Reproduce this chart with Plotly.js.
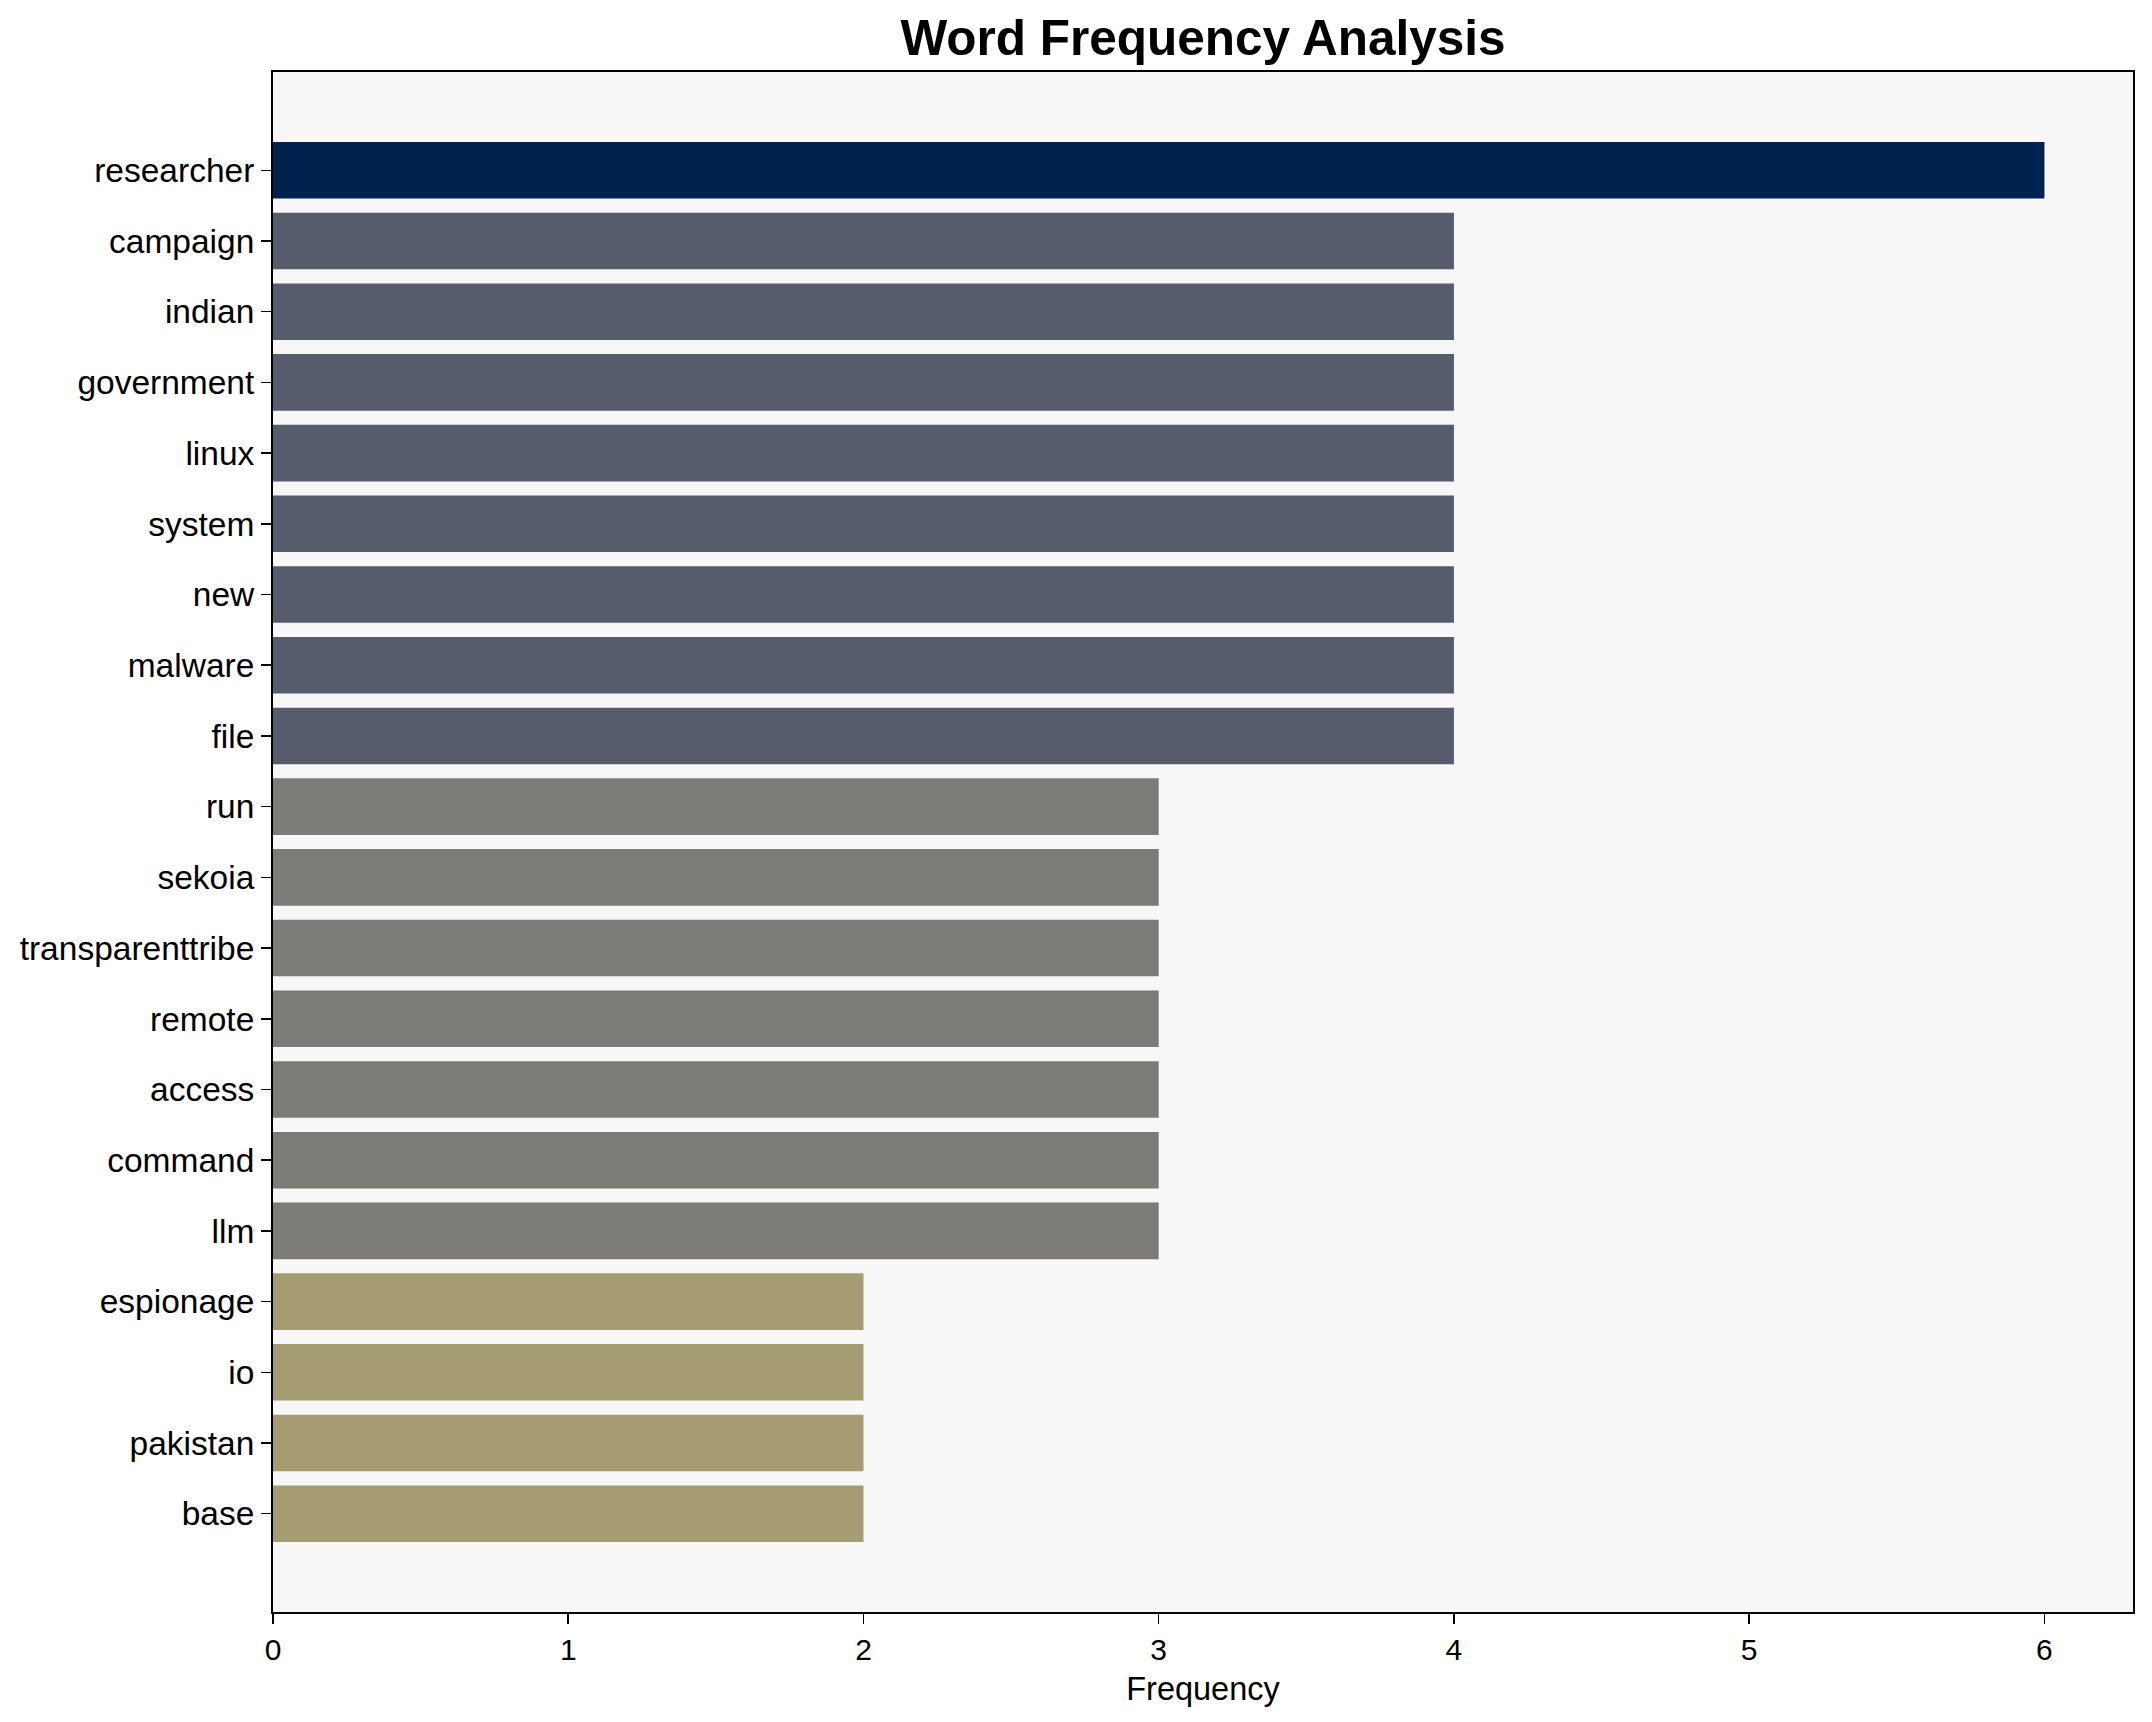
<!DOCTYPE html>
<html>
<head>
<meta charset="utf-8">
<script src="https://cdn.plot.ly/plotly-3.0.1.min.js"></script>
<style>
  html, body { margin: 0; padding: 0; background: #ffffff; }
  #chart { width: 2152px; height: 1722px; }
</style>
</head>
<body>
<div id="chart"></div>
<script>
// ---- data ----
const words = [
  "researcher", "campaign", "indian", "government", "linux", "system", "new",
  "malware", "file", "run", "sekoia", "transparenttribe", "remote", "access",
  "command", "llm", "espionage", "io", "pakistan", "base"
];
const counts = [6, 4, 4, 4, 4, 4, 4, 4, 4, 3, 3, 3, 3, 3, 3, 3, 2, 2, 2, 2];
const xTickValues = [0, 1, 2, 3, 4, 5, 6];

// ---- style ----
const colorByCount = { 6: "#00224e", 4: "#575c6d", 3: "#7c7b78", 2: "#a59c74" };
const barColors = counts.map(c => colorByCount[c]);
const FONT = "Liberation Sans, Arial, sans-serif";

const trace = {
  type: "bar",
  orientation: "h",
  x: counts,
  y: words,
  width: 0.8,
  marker: { color: barColors, line: { width: 0 } },
  hoverinfo: "x+y"
};

const layout = {
  width: 2152,
  height: 1722,
  margin: { l: 273, r: 19, t: 72, b: 110, pad: 0 },
  paper_bgcolor: "#ffffff",
  plot_bgcolor: "#f7f7f7",
  showlegend: false,
  title: {
    text: "<b>Word Frequency Analysis</b>",
    font: { family: FONT, size: 49.5, color: "#000000" },
    x: 0.559, xanchor: "center",
    y: 0.978, yanchor: "middle", yref: "container"
  },
  xaxis: {
    range: [0, 6.3],
    tickvals: xTickValues,
    ticktext: xTickValues.map(String),
    showgrid: false,
    zeroline: false,
    showline: true,
    linecolor: "#000000",
    linewidth: 2,
    mirror: true,
    ticks: "outside",
    ticklen: 10,
    tickwidth: 1.5,
    tickcolor: "#000000",
    tickfont: { family: FONT, size: 30, color: "#000000" },
    title: { text: "Frequency", font: { family: FONT, size: 32.5, color: "#000000" }, standoff: 12 }
  },
  yaxis: {
    type: "category",
    categoryorder: "array",
    categoryarray: words,
    range: [20.39, -1.39],
    showgrid: false,
    zeroline: false,
    showline: true,
    linecolor: "#000000",
    linewidth: 2,
    mirror: true,
    ticks: "outside",
    ticklen: 10,
    tickwidth: 1.5,
    tickcolor: "#000000",
    tickfont: { family: FONT, size: 33.5, color: "#000000" }
  }
};

Plotly.newPlot("chart", [trace], layout, { displayModeBar: false, staticPlot: true });
</script>
</body>
</html>
